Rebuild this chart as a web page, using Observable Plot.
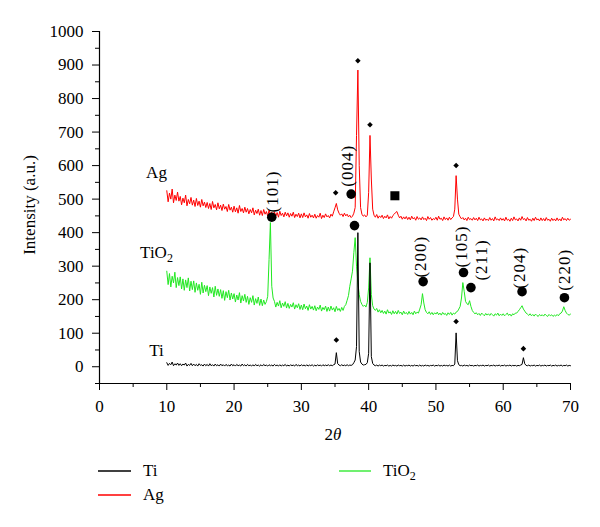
<!DOCTYPE html>
<html><head><meta charset="utf-8">
<script src="https://cdn.jsdelivr.net/npm/d3@7"></script>
<script src="https://cdn.jsdelivr.net/npm/@observablehq/plot@0.6"></script>
<style>
body{margin:0;background:#fff;}
#wrap{position:relative;width:600px;height:527px;font-family:"Liberation Serif",serif;}
#legend{position:absolute;left:0;top:450px;}
svg, svg text{font-family:"Liberation Serif",serif !important;}
</style></head><body>
<div id="wrap"><div id="chart"></div>
<svg id="legend" width="600" height="77" font-family="Liberation Serif" font-size="17">
<line x1="98" x2="131" y1="21" y2="21" stroke="#000" stroke-width="1.3"/>
<text x="143" y="26">Ti</text>
<line x1="98" x2="131" y1="45" y2="45" stroke="#ff0000" stroke-width="1.3"/>
<text x="143" y="50">Ag</text>
<line x1="339" x2="371" y1="21" y2="21" stroke="#22e822" stroke-width="1.3"/>
<text x="383" y="26">TiO<tspan dy="4" font-size="12">2</tspan></text>
</svg>
</div>
<script>
// 2θ sampling of the scans
const startAngle = 10, angleStep = 0.2;

const seriesNames = ["Ag", "TiO2", "Ti"];
const seriesColors = ["#ff0000", "#22e822", "#000000"];

const agIntensity = [
525,492,518,500,530,489,512,496,521,494,
508,483,503,489,512,480,499,486,505,482,
497,478,502,481,494,476,499,480,491,475,
490,472,487,469,493,474,484,468,489,471,
482,466,485,470,478,463,484,467,476,461,
479,462,474,458,481,463,472,459,476,461,
472,456,469,459,474,453,467,457,470,452,
466,451,469,455,463,450,467,454,461,452,
462,449,460,446,464,451,458,447,461,450,
459,446,457,449,461,445,455,448,458,444,
456,445,459,447,453,443,457,446,452,444,
455,443,451,446,458,442,452,445,456,447,
451,444,455,449,462,474,487,468,458,452,
456,448,458,450,455,447,452,445,449,458,
475,690,885,600,475,455,449,453,447,452,
520,690,560,470,452,446,454,443,450,445,
452,442,449,444,453,441,448,443,451,455,
460,463,452,444,449,440,447,441,448,439,
446,438,449,441,445,437,448,440,444,438,
447,439,443,436,448,440,445,437,442,439,
446,437,449,440,443,436,447,439,444,437,
446,439,444,448,470,570,500,455,447,441,
445,438,443,436,446,439,442,437,445,438,
443,436,446,438,441,435,444,437,440,436,
445,437,442,435,447,438,441,436,444,437,
442,435,446,437,440,434,443,436,447,438,
441,435,444,437,448,439,442,435,445,437,
440,434,443,436,446,438,441,435,444,436,
442,435,445,437,440,434,443,436,441,435,
444,436,441,435,446,438,442,436,443,437,
440];

const tio2Intensity = [
285,245,278,238,270,250,282,236,266,242,
268,232,262,228,259,236,265,226,255,230,
256,222,250,228,246,216,252,220,243,224,
242,212,238,219,236,208,240,213,232,210,
230,204,227,198,224,206,228,199,220,202,
218,193,214,199,221,190,212,196,216,192,
210,186,206,192,212,184,203,189,208,183,
202,182,199,186,194,210,320,430,240,205,
195,178,192,181,197,176,190,180,194,175,
189,174,186,178,191,172,185,176,188,171,
184,170,187,173,181,168,185,172,180,169,
182,167,178,171,184,166,177,170,181,165,
178,166,181,169,176,164,180,168,174,165,
177,168,180,185,198,212,240,262,285,340,
385,300,250,215,195,186,180,184,178,192,
235,325,215,182,172,168,174,163,170,161,
168,159,166,157,170,160,164,156,167,158,
165,157,168,159,163,155,166,158,162,156,
165,157,162,155,166,158,163,160,172,185,
218,190,170,162,158,164,156,162,155,161,
157,163,155,160,154,162,156,159,153,161,
156,162,154,160,157,163,165,172,180,205,
251,225,195,188,185,197,180,168,162,158,
161,155,159,153,160,156,152,159,154,158,
153,159,155,151,158,154,160,152,157,153,
158,152,156,160,153,157,151,158,155,160,
160,165,170,176,182,172,166,160,157,153,
158,152,156,151,157,153,150,156,152,155,
151,157,153,150,156,152,155,150,154,151,
156,152,158,160,166,179,168,160,156,154,
157];

const tiIntensity = [
12,4,10,6,14,3,9,5,11,4,
9,3,8,5,11,2,7,4,10,3,
8,3,7,2,9,4,6,2,8,3,
7,2,9,3,6,2,8,3,6,2,
8,3,6,2,7,3,5,2,8,3,
6,2,7,3,5,2,8,3,6,2,
7,3,5,2,6,2,7,3,5,2,
6,2,7,3,5,2,6,3,5,2,
7,3,5,2,6,2,5,3,7,2,
5,2,6,3,5,2,7,3,5,2,
6,3,5,2,6,2,5,3,6,2,
5,2,6,3,5,2,6,3,5,3,
6,3,5,3,6,8,42,9,5,3,
6,3,5,3,6,3,5,4,6,12,
20,60,400,45,14,8,5,6,7,12,
40,310,30,10,5,3,5,2,5,3,
5,2,4,3,5,2,4,2,5,3,
4,2,5,3,4,2,5,2,4,3,
5,2,4,2,5,3,4,2,5,2,
4,2,5,3,4,2,4,3,5,2,
4,3,5,2,4,2,5,3,4,2,
5,2,4,3,8,101,18,6,3,4,
2,5,3,4,2,5,3,4,2,4,
3,5,2,4,3,5,2,4,3,5,
2,4,3,5,2,4,3,5,2,4,
3,5,2,4,3,5,2,4,3,4,
2,4,3,5,7,27,9,4,3,5,
2,4,3,5,2,4,3,5,2,4,
3,5,2,4,3,5,2,4,3,5,
2,4,3,5,2,4,3,5,2,4,
3];

// phase markers
const anataseX = [25.6, 37.4, 37.9, 48.1, 54.1, 55.2, 62.8, 69.1];
const anataseY = [446, 515, 421, 254, 281, 236, 224, 206];
const titaniumX = [35.1, 38.4, 40.2, 53.0, 35.2, 53.0, 63.0];
const titaniumY = [519, 913, 722, 600, 80, 135, 54];
const squareX = [43.9];
const squareY = [510];

// Miller index labels
const hklText = ["(101)", "(004)", "(200)", "(105)", "(211)", "(204)", "(220)"];
const hklX = [25.78, 36.92, 47.77, 53.79, 56.76, 62.41, 69.10];
const hklY = [460, 537, 266, 296, 257, 233, 227];

// series labels
const seriesLabelX = [8.47, 8.47, 8.47];
const seriesLabelY = [579, 341, 49];

// ticks
const xTicks = [0, 10, 20, 30, 40, 50, 60, 70];
const xMinorTicks = [5, 15, 25, 35, 45, 55, 65];
const yTicks = [0, 100, 200, 300, 400, 500, 600, 700, 800, 900, 1000];
const yMinorTicks = [-50, 50, 150, 250, 350, 450, 550, 650, 750, 850, 950];

const rows = [];
[agIntensity, tio2Intensity, tiIntensity].forEach((vals, k) => {
  vals.forEach((v, i) => rows.push({theta: +(startAngle + i * angleStep).toFixed(1), intensity: v, series: seriesNames[k]}));
});
const circles = anataseX.map((x, i) => ({x, y: anataseY[i]}));
const diamonds = titaniumX.map((x, i) => ({x, y: titaniumY[i]}));
const squares = squareX.map((x, i) => ({x, y: squareY[i]}));
const hkl = hklText.map((t, i) => ({t, x: hklX[i], y: hklY[i]}));
const sLabels = seriesNames.map((t, i) => ({t, x: seriesLabelX[i], y: seriesLabelY[i]}));

const plot = Plot.plot({
  width: 600, height: 450,
  marginLeft: 99, marginRight: 30, marginTop: 31, marginBottom: 67,
  style: {fontFamily: "Liberation Serif", fontSize: "17px", color: "#000", background: "#fff"},
  x: {domain: [0, 70]},
  y: {domain: [-50, 1000]},
  color: {domain: seriesNames, range: seriesColors},
  marks: [
    Plot.axisX(xTicks, {tickSize: 7, tickPadding: 9, label: null, fontSize: 17, tickFormat: d => String(d)}),
    Plot.axisX(xMinorTicks, {tickSize: 4, tickFormat: () => "", label: null}),
    Plot.axisY(yTicks, {tickSize: 7, tickPadding: 9, label: null, fontSize: 17, tickFormat: d => String(d)}),
    Plot.axisY(yMinorTicks, {tickSize: 4, tickFormat: () => "", label: null}),
    Plot.ruleX([0], {stroke: "#000", strokeWidth: 1.2}),
    Plot.ruleY([-50], {stroke: "#000", strokeWidth: 1.2}),
    Plot.line(rows, {x: "theta", y: "intensity", z: "series", stroke: "series", strokeWidth: 1}),
    Plot.dot(circles, {x: "x", y: "y", r: 4.8, fill: "#000", symbol: "circle"}),
    Plot.dot(diamonds, {x: "x", y: "y", r: 2.5, fill: "#000", symbol: "diamond2"}),
    Plot.dot(squares, {x: "x", y: "y", r: 5.1, fill: "#000", symbol: "square"}),
    Plot.text(hkl, {x: "x", y: "y", text: "t", rotate: -90, textAnchor: "start", fontSize: 17, fill: "#000"}),
    Plot.text(sLabels, {x: "x", y: "y", text: "t", textAnchor: "middle", fontSize: 17, fill: "#000"})
  ]
});
document.getElementById("chart").appendChild(plot);

const svg = d3.select(plot);
svg.selectAll("text").filter(function() { return this.textContent === "TiO2"; })
  .each(function() {
    const t = d3.select(this);
    t.text("TiO");
    t.append("tspan").attr("dy", 4).attr("font-size", 12).text("2");
  });
svg.selectAll("text").filter(function() { return /^\(\d+\)$/.test(this.textContent); })
  .style("letter-spacing", "1px");
svg.append("text")
  .attr("transform", "translate(35,205) rotate(-90)")
  .attr("text-anchor", "middle")
  .attr("font-size", 17)
  .attr("fill", "#000")
  .text("Intensity (a.u.)");
const xl = svg.append("text").attr("x", 333).attr("y", 440).attr("text-anchor", "middle")
  .attr("font-size", 17).attr("fill", "#000");
xl.append("tspan").text("2");
xl.append("tspan").attr("font-style", "italic").text("θ");
</script>
</body></html>
